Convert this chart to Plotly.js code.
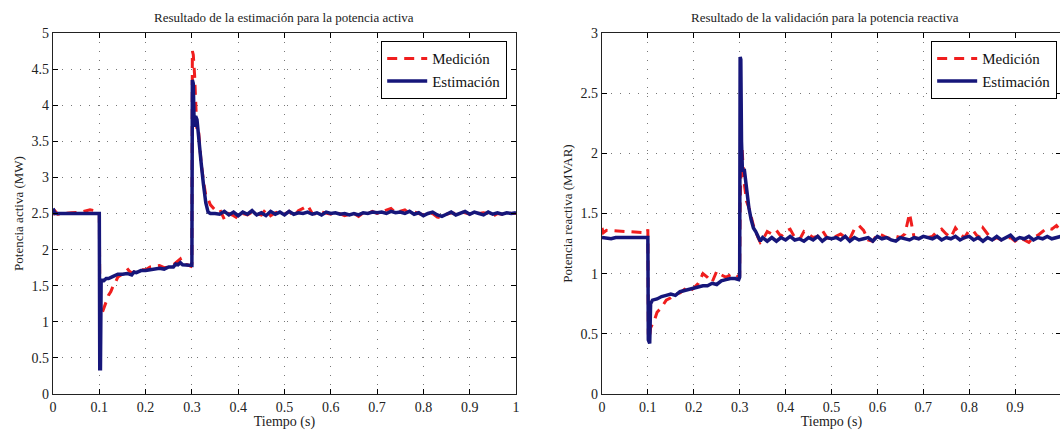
<!DOCTYPE html>
<html>
<head>
<meta charset="utf-8">
<script src="https://cdn.plot.ly/plotly-3.0.1.min.js"></script>
<style>html,body{margin:0;padding:0;overflow:hidden;background:#fff;}#chart{width:1075px;height:430px;}</style>
</head>
<body>
<div id="chart"></div>
<script>
// ---- shared tail time axis (steady-state region) ----
const tTail = [0.36,0.37,0.38,0.39,0.40,0.41,0.42,0.43,0.44,0.45,0.46,0.47,0.48,0.49,0.50,0.51,0.52,0.53,0.54,0.55,0.56,0.57,0.58,0.59,0.60,0.61,0.62,0.63,0.64,0.65,0.66,0.67,0.68,0.69,0.70,0.71,0.72,0.73,0.74,0.75,0.76,0.77,0.78,0.79,0.80,0.81,0.82,0.83,0.84,0.85,0.86,0.87,0.88,0.89,0.90,0.91,0.92,0.93,0.94,0.95,0.96,0.97,0.98,0.99,1.00];

// ---- Active power (MW): Estimación ----
const tActEstHead = [0,0.004,0.05,0.1,0.101,0.1025,0.104,0.11,0.115,0.12,0.13,0.14,0.15,0.16,0.17,0.175,0.18,0.19,0.2,0.21,0.22,0.23,0.24,0.25,0.26,0.265,0.27,0.275,0.28,0.29,0.298,0.3,0.301,0.303,0.305,0.308,0.311,0.315,0.32,0.325,0.33,0.335,0.34,0.35];
const pActEstHead = [2.57,2.5,2.5,2.5,0.35,0.35,1.58,1.57,1.6,1.6,1.63,1.66,1.66,1.67,1.65,1.69,1.68,1.71,1.71,1.72,1.73,1.74,1.73,1.76,1.76,1.8,1.79,1.82,1.79,1.78,1.77,1.78,4.35,4.3,3.7,3.85,3.8,3.5,3.2,2.9,2.65,2.52,2.5,2.5];
const pActEstTail = [2.49,2.53,2.48,2.52,2.47,2.52,2.49,2.54,2.48,2.51,2.47,2.53,2.49,2.52,2.48,2.53,2.49,2.51,2.5,2.52,2.49,2.51,2.48,2.52,2.5,2.51,2.49,2.5,2.48,2.5,2.48,2.51,2.5,2.52,2.51,2.52,2.5,2.53,2.51,2.52,2.5,2.53,2.49,2.51,2.47,2.5,2.52,2.48,2.46,2.49,2.52,2.48,2.51,2.53,2.49,2.52,2.5,2.48,2.52,2.49,2.51,2.49,2.51,2.5,2.51];

// ---- Active power (MW): Medición ----
const tActMedHead = [0,0.005,0.01,0.02,0.04,0.06,0.08,0.09,0.099,0.1,0.101,0.103,0.106,0.11,0.115,0.12,0.125,0.13,0.135,0.14,0.15,0.16,0.165,0.17,0.18,0.19,0.2,0.21,0.22,0.23,0.24,0.25,0.26,0.27,0.275,0.28,0.29,0.298,0.3,0.301,0.303,0.306,0.308,0.311,0.315,0.32,0.325,0.33,0.335,0.34,0.35];
const pActMedHead = [2.48,2.53,2.49,2.5,2.51,2.52,2.55,2.54,2.52,2.52,1.5,1.2,1.12,1.2,1.3,1.37,1.42,1.5,1.55,1.62,1.66,1.74,1.7,1.68,1.7,1.72,1.72,1.76,1.77,1.78,1.75,1.76,1.79,1.84,1.87,1.8,1.79,1.77,1.8,4.75,4.7,4.4,4.0,3.6,3.6,3.2,2.95,2.75,2.7,2.62,2.55];
const pActMedTail = [2.56,2.42,2.5,2.47,2.43,2.5,2.48,2.52,2.5,2.48,2.56,2.47,2.51,2.53,2.49,2.53,2.46,2.54,2.57,2.61,2.5,2.49,2.52,2.51,2.49,2.52,2.5,2.47,2.49,2.5,2.46,2.51,2.5,2.53,2.5,2.52,2.55,2.57,2.51,2.53,2.55,2.5,2.52,2.5,2.48,2.51,2.5,2.45,2.44,2.49,2.51,2.5,2.52,2.51,2.49,2.52,2.5,2.51,2.5,2.46,2.5,2.49,2.51,2.5,2.5];

// ---- Reactive power (MVAR): Estimación ----
const tReaEstHead = [0,0.02,0.03,0.1,0.101,0.1025,0.104,0.106,0.11,0.12,0.13,0.14,0.15,0.16,0.17,0.18,0.19,0.2,0.21,0.22,0.23,0.24,0.25,0.26,0.27,0.28,0.29,0.298,0.3,0.301,0.3025,0.304,0.306,0.31,0.315,0.32,0.325,0.33,0.335,0.34,0.345,0.35];
const qReaEstHead = [1.3,1.29,1.3,1.3,0.45,0.42,0.42,0.75,0.78,0.79,0.81,0.82,0.83,0.82,0.85,0.86,0.87,0.88,0.89,0.9,0.9,0.92,0.91,0.94,0.95,0.96,0.96,0.95,0.97,2.8,2.78,2.1,1.85,1.87,1.7,1.55,1.45,1.38,1.35,1.3,1.27,1.3];
const qReaEstTail = [1.27,1.3,1.27,1.3,1.28,1.31,1.28,1.29,1.27,1.3,1.28,1.31,1.27,1.3,1.29,1.3,1.28,1.31,1.27,1.3,1.28,1.29,1.3,1.27,1.31,1.29,1.3,1.28,1.27,1.3,1.29,1.28,1.3,1.29,1.31,1.3,1.29,1.31,1.28,1.3,1.29,1.31,1.28,1.3,1.31,1.28,1.3,1.27,1.3,1.28,1.31,1.28,1.3,1.32,1.28,1.3,1.29,1.31,1.28,1.3,1.29,1.31,1.29,1.3,1.31];

// ---- Reactive power (MVAR): Medición ----
const tReaMedHead = [0,0.003,0.01,0.05,0.099,0.1,0.101,0.103,0.106,0.11,0.115,0.12,0.13,0.14,0.15,0.16,0.17,0.18,0.19,0.2,0.21,0.22,0.23,0.24,0.25,0.26,0.27,0.28,0.29,0.298,0.3,0.301,0.305,0.31,0.315,0.32,0.33,0.34,0.345,0.35];
const qReaMedHead = [1.38,1.34,1.36,1.35,1.34,1.37,0.5,0.45,0.55,0.58,0.62,0.68,0.72,0.78,0.8,0.83,0.84,0.87,0.85,0.88,0.92,1.0,0.97,0.93,1.02,0.99,0.97,0.99,1.0,0.97,0.98,1.6,2.05,1.75,1.6,1.55,1.4,1.3,1.26,1.28];
const qReaMedTail = [1.35,1.33,1.36,1.31,1.35,1.37,1.3,1.28,1.35,1.33,1.3,1.31,1.36,1.3,1.28,1.31,1.33,1.3,1.29,1.37,1.4,1.36,1.28,1.27,1.33,1.32,1.3,1.29,1.31,1.3,1.33,1.5,1.3,1.29,1.3,1.3,1.31,1.35,1.37,1.33,1.3,1.38,1.33,1.3,1.36,1.35,1.3,1.38,1.33,1.28,1.3,1.28,1.29,1.3,1.27,1.3,1.28,1.26,1.3,1.32,1.35,1.38,1.37,1.4,1.35];

const xTicks = [0,0.1,0.2,0.3,0.4,0.5,0.6,0.7,0.8,0.9,1];
const xTickTextL = ['0','0.1','0.2','0.3','0.4','0.5','0.6','0.7','0.8','0.9','1'];
const xTickTextR = ['0','0.1','0.2','0.3','0.4','0.5','0.6','0.7','0.8','0.9',''];
const yTicksAct = [0,0.5,1,1.5,2,2.5,3,3.5,4,4.5,5];
const yTicksRea = [0,0.5,1,1.5,2,2.5,3];

const seriesNames = ['Medición','Estimación'];
const titles = ['Resultado de la estimación para la potencia activa','Resultado de la validación para la potencia reactiva'];
const yTitles = ['Potencia activa (MW)','Potencia reactiva (MVAR)'];
const xTitle = 'Tiempo (s)';

const RED = '#f01e1e', BLUE = '#16167a';
const FONT = '"Liberation Serif", "DejaVu Serif", serif';

const medLine = {color: RED, width: 3, dash: '10px,7px'};
const estLine = {color: BLUE, width: 3.5};

const traces = [
  {x: tActMedHead.concat(tTail), y: pActMedHead.concat(pActMedTail), name: seriesNames[0], mode: 'lines', line: medLine, xaxis: 'x', yaxis: 'y', legend: 'legend'},
  {x: tActEstHead.concat(tTail), y: pActEstHead.concat(pActEstTail), name: seriesNames[1], mode: 'lines', line: estLine, xaxis: 'x', yaxis: 'y', legend: 'legend'},
  {x: tReaMedHead.concat(tTail), y: qReaMedHead.concat(qReaMedTail), name: seriesNames[0], mode: 'lines', line: medLine, xaxis: 'x2', yaxis: 'y2', legend: 'legend2'},
  {x: tReaEstHead.concat(tTail), y: qReaEstHead.concat(qReaEstTail), name: seriesNames[1], mode: 'lines', line: estLine, xaxis: 'x2', yaxis: 'y2', legend: 'legend2'}
];

function xAxis(domain, anchor, tt) {
  return {domain: domain, anchor: anchor, range: [0, 1], tickmode: 'array', tickvals: xTicks, ticktext: tt,
    ticks: 'inside', ticklen: 5, tickcolor: '#000', mirror: 'ticks', showline: true, linecolor: '#222', linewidth: 1.2,
    showgrid: true, gridcolor: '#777', gridwidth: 1, griddash: '1px,8px', zeroline: false,
    tickfont: {family: FONT, size: 14, color: '#222'},
    title: {text: xTitle, font: {family: FONT, size: 14, color: '#222'}, standoff: 0}};
}
function yAxis(domain, anchor, range, ticks, title) {
  return {domain: domain, anchor: anchor, range: range, tickmode: 'array', tickvals: ticks,
    ticks: 'inside', ticklen: 5, tickcolor: '#000', mirror: 'ticks', showline: true, linecolor: '#222', linewidth: 1.2,
    showgrid: true, gridcolor: '#777', gridwidth: 1, griddash: '1px,8px', zeroline: false,
    tickfont: {family: FONT, size: 14, color: '#222'},
    title: {text: title, font: {family: FONT, size: 13, color: '#222'}, standoff: 5}};
}

const dL = [0, 0.4593], dR = [0.5446, 1];
const legendStyle = (x) => ({x: x, xanchor: 'right', y: 0.978, yanchor: 'top', bgcolor: '#fff', bordercolor: '#000', borderwidth: 1.2,
  font: {family: FONT, size: 15, color: '#111'}, tracegroupgap: 0, itemwidth: 40, traceorder: 'normal'});

const layout = {
  width: 1075, height: 430,
  margin: {l: 53, r: 14, t: 33, b: 36},
  paper_bgcolor: '#fff', plot_bgcolor: '#fff',
  showlegend: true,
  xaxis: xAxis(dL, 'y', xTickTextL),
  yaxis: yAxis([0, 1], 'x', [0, 5], yTicksAct, yTitles[0]),
  xaxis2: xAxis(dR, 'y2', xTickTextR),
  yaxis2: yAxis([0, 1], 'x2', [0, 3], yTicksRea, yTitles[1]),
  legend: legendStyle(0.4504),
  legend2: legendStyle(0.996),
  annotations: [
    {text: titles[0], xref: 'paper', yref: 'paper', x: (dL[0] + dL[1]) / 2, y: 1, yshift: 16, xanchor: 'center', yanchor: 'middle', showarrow: false, font: {family: FONT, size: 13, color: '#222'}},
    {text: titles[1], xref: 'paper', yref: 'paper', x: (dR[0] + dR[1]) / 2, y: 1, xshift: -6, yshift: 16, xanchor: 'center', yanchor: 'middle', showarrow: false, font: {family: FONT, size: 13, color: '#222'}}
  ]
};

Plotly.newPlot('chart', traces, layout, {displayModeBar: false, staticPlot: true});
</script>
</body>
</html>
